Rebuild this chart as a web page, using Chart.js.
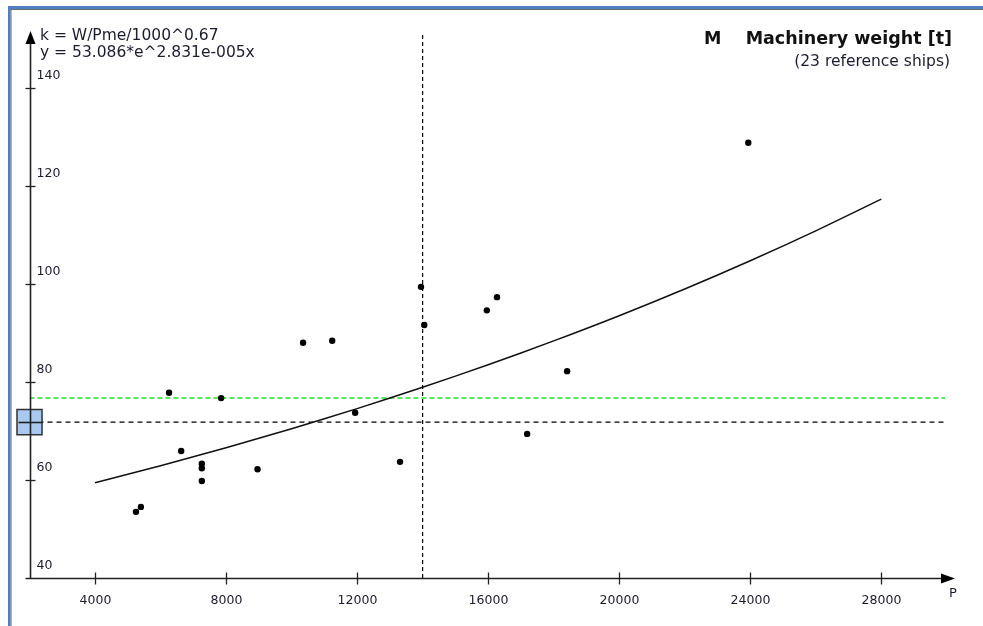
<!DOCTYPE html>
<html>
<head>
<meta charset="utf-8">
<script src="https://cdn.jsdelivr.net/npm/chart.js@4"></script>
<style>
  html, body { margin: 0; padding: 0; background: #fff; }
  canvas { display: block; }
</style>
</head>
<body>
<canvas id="chartCanvas" width="983" height="626"></canvas>
<script>
// ================= DATA =================

// reference ships: installed power P [kW] and machinery weight M [t]
const shipP = [5250, 5400, 6260, 6630, 7260, 7260, 7260, 7850, 8960, 10350,
               11240, 11940, 13310, 13950, 14050, 15960, 16270, 17190, 18410, 23940];
const shipM = [53.5, 54.5, 77.8, 65.9, 63.3, 62.4, 59.8, 76.7, 62.2, 88.0,
               88.4, 73.7, 63.7, 99.4, 91.6, 94.6, 97.3, 69.4, 82.2, 128.8];

// fitted curve y = 53.086*e^2.831e-005x, read at every 2000
const curveP = [4000, 6000, 8000, 10000, 12000, 14000, 16000, 18000, 20000, 22000, 24000, 26000, 28000];
const curveM = [59.45, 62.91, 66.58, 70.46, 74.56, 78.91, 83.50, 88.37, 93.51, 98.96, 104.73, 110.83, 117.29];

// current design
const designP = 14000;
const designM = 71.8;
const targetM = 76.7;

const xTicks = [4000, 8000, 12000, 16000, 20000, 24000, 28000];
const yTicks = [40, 60, 80, 100, 120, 140];

const xMin = 2000, xMax = 30250;
const yMin = 40, yMax = 152;

const FONT = '"DejaVu Sans", Verdana, sans-serif';
const TXT = "#1c1c30";

// ================= PLUGIN =================

const axesPlugin = {
    id: "axesPlugin",
    beforeDraw(chart) {
        const ctx = chart.ctx;
        ctx.save();
        ctx.fillStyle = "#fff";
        ctx.fillRect(0, 0, chart.width, chart.height);
        // window frame
        ctx.fillStyle = "#4f7fc2";
        ctx.fillRect(8, 6, chart.width - 8, 3);
        ctx.fillRect(8, 6, 2.5, chart.height - 6);
        ctx.fillStyle = "#6b6b6b";
        ctx.fillRect(10.5, 9, chart.width - 10, 1);
        ctx.fillRect(10.5, 9, 1, chart.height - 9);
        ctx.restore();
    },
    afterDatasetsDraw(chart) {
        const ctx = chart.ctx;
        const xs = chart.scales.x, ys = chart.scales.y;
        const x0 = Math.round(xs.getPixelForValue(xMin)) + 0.5;
        const y0 = Math.round(ys.getPixelForValue(yMin)) + 0.5;
        ctx.save();
        ctx.strokeStyle = "#222";
        ctx.fillStyle = "#000";
        ctx.lineWidth = 1.6;

        // solid bar through the design marker
        const my = Math.round(ys.getPixelForValue(designM)) + 0.5;
        ctx.beginPath();
        ctx.moveTo(x0 - 12, my);
        ctx.lineTo(x0 + 12, my);
        ctx.stroke();

        // x axis
        ctx.beginPath();
        ctx.moveTo(x0 - 5, y0);
        ctx.lineTo(xs.right - 10, y0);
        ctx.stroke();
        ctx.beginPath();
        ctx.moveTo(xs.right, y0);
        ctx.lineTo(xs.right - 14, y0 - 5);
        ctx.lineTo(xs.right - 14, y0 + 5);
        ctx.closePath();
        ctx.fill();

        // y axis
        ctx.beginPath();
        ctx.moveTo(x0, y0);
        ctx.lineTo(x0, ys.top + 10);
        ctx.stroke();
        ctx.beginPath();
        ctx.moveTo(x0, ys.top + 2);
        ctx.lineTo(x0 - 5, ys.top + 15);
        ctx.lineTo(x0 + 5, ys.top + 15);
        ctx.closePath();
        ctx.fill();

        // ticks and labels
        ctx.lineWidth = 1.3;
        ctx.font = "12.5px " + FONT;
        ctx.fillStyle = TXT;
        ctx.textAlign = "center";
        ctx.textBaseline = "middle";
        xTicks.forEach(v => {
            const px = Math.round(xs.getPixelForValue(v)) + 0.5;
            ctx.beginPath();
            ctx.moveTo(px, y0 - 6);
            ctx.lineTo(px, y0 + 6);
            ctx.stroke();
            ctx.fillText(String(v), px, y0 + 22);
        });
        ctx.textAlign = "left";
        yTicks.forEach(v => {
            const py = Math.round(ys.getPixelForValue(v)) + 0.5;
            if (v !== yMin) {
                ctx.beginPath();
                ctx.moveTo(x0 - 5, py);
                ctx.lineTo(x0 + 5, py);
                ctx.stroke();
            }
            ctx.fillText(String(v), x0 + 6, py - 13);
        });
        ctx.font = "13px " + FONT;
        ctx.fillText("P", xs.right - 6, y0 + 15);

        // formula text
        ctx.font = "15.5px " + FONT;
        ctx.fillText("k = W/Pme/1000^0.67", 40, 36);
        ctx.fillText("y = 53.086*e^2.831e-005x", 40, 53);

        // title
        ctx.fillStyle = "#111";
        ctx.font = "bold 17.5px " + FONT;
        ctx.fillText("M", 704, 39);
        ctx.textAlign = "right";
        ctx.fillText("Machinery weight [t]", 952, 39);
        ctx.font = "15.5px " + FONT;
        ctx.fillStyle = TXT;
        ctx.fillText("(23 reference ships)", 950, 62);
        ctx.restore();
    }
};

// ================= CHART =================

const pts = shipP.map((p, i) => ({ x: p, y: shipM[i] }));
const curve = curveP.map((p, i) => ({ x: p, y: curveM[i] }));

new Chart(document.getElementById("chartCanvas"), {
    type: "scatter",
    data: {
        datasets: [
            {
                label: "design",
                data: [{ x: xMin, y: designM }],
                pointStyle: "rect",
                pointRadius: 17.7,
                backgroundColor: "#a9c9f1",
                borderColor: "#333",
                borderWidth: 1.5,
                clip: false,
                order: 0
            },
            {
                label: "ships",
                data: pts,
                pointRadius: 3.2,
                backgroundColor: "#000",
                borderColor: "#000",
                borderWidth: 0,
                order: 1
            },
            {
                label: "fit",
                data: curve,
                showLine: true,
                pointRadius: 0,
                borderColor: "#111",
                borderWidth: 1.5,
                tension: 0.3,
                order: 2
            },
            {
                label: "designP",
                data: [{ x: designP, y: yMin }, { x: designP, y: 151.2 }],
                showLine: true,
                pointRadius: 0,
                borderColor: "#000",
                borderWidth: 1.2,
                borderDash: [4, 3],
                order: 3
            },
            {
                label: "designM",
                data: [{ x: xMin, y: designM }, { x: 29950, y: designM }],
                showLine: true,
                pointRadius: 0,
                borderColor: "#000",
                borderWidth: 1.2,
                borderDash: [5, 4],
                order: 4
            },
            {
                label: "targetM",
                data: [{ x: xMin, y: targetM }, { x: 29950, y: targetM }],
                showLine: true,
                pointRadius: 0,
                borderColor: "#22e022",
                borderWidth: 1.5,
                borderDash: [5, 3],
                order: 5
            }
        ]
    },
    options: {
        responsive: false,
        animation: false,
        events: [],
        layout: { padding: { left: 29.5, right: 28, top: 29, bottom: 48 } },
        scales: {
            x: { type: "linear", min: xMin, max: xMax, display: false },
            y: { type: "linear", min: yMin, max: yMax, display: false }
        },
        plugins: {
            legend: { display: false },
            tooltip: { enabled: false }
        }
    },
    plugins: [axesPlugin]
});
</script>
</body>
</html>
